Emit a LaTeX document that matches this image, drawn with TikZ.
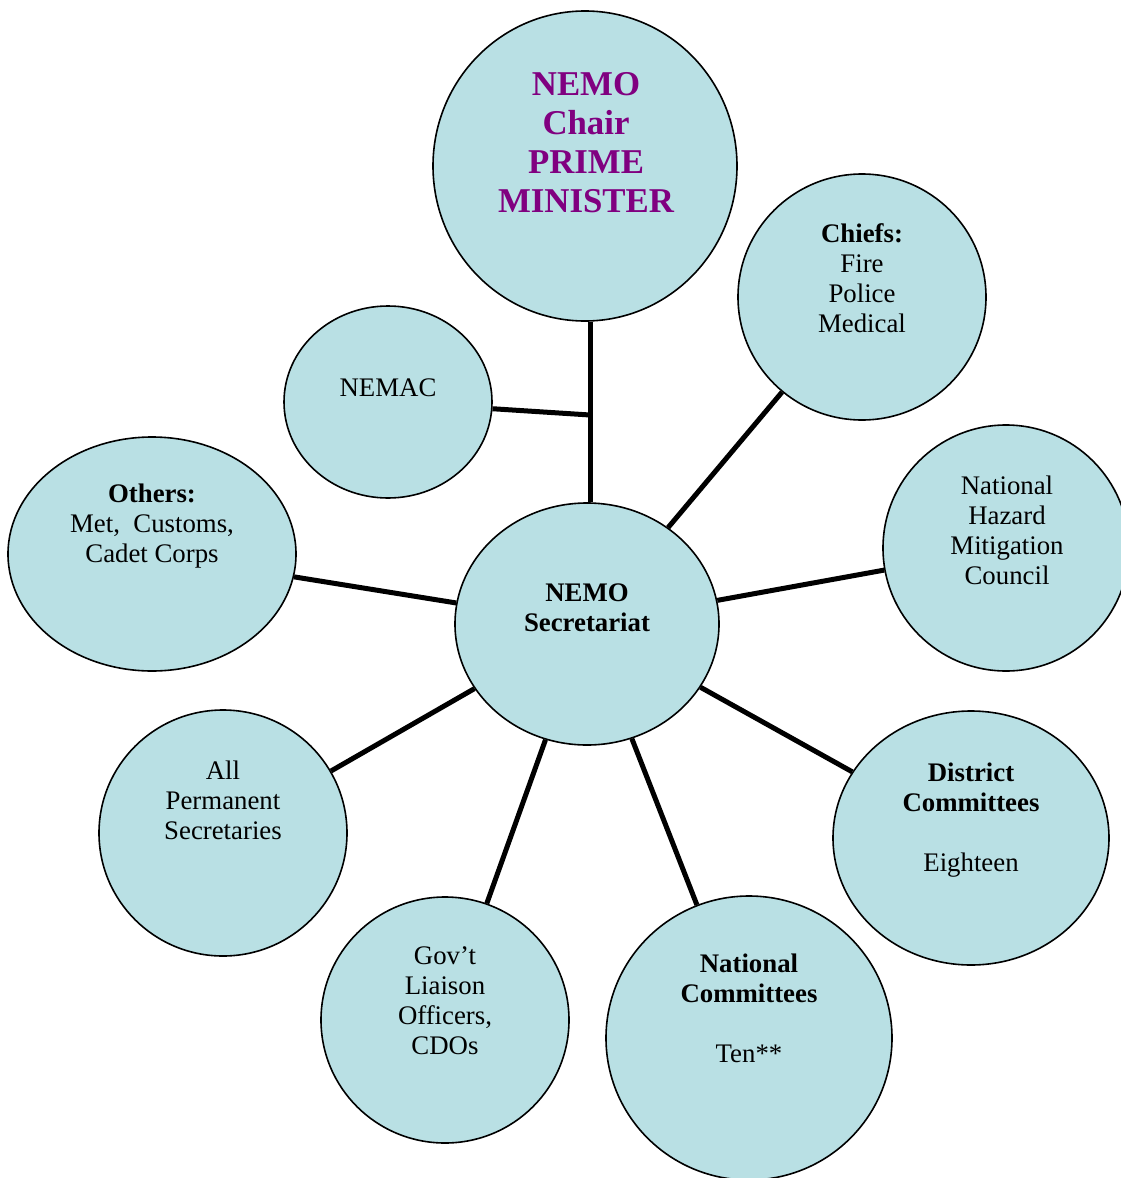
\documentclass[tikz,border=0pt]{standalone}
\usepackage{fontspec}
\setmainfont{Liberation Serif}
\usetikzlibrary{shapes.geometric}
\definecolor{bubble}{HTML}{B9E0E4}
\definecolor{titlepurple}{HTML}{800080}
\tikzset{
  bub/.style={ellipse, draw=black, line width=1.6pt, fill=bubble, inner sep=0pt, minimum width=2*#1},
  txt/.style={align=center, font=\fontsize{26.8}{30}\selectfont, inner sep=0pt},
  link/.style={line width=5pt, line cap=butt}
}
\begin{document}
\begin{tikzpicture}[x=1pt,y=-1pt]
\useasboundingbox (0,0) rectangle (1121,1178);
% bubbles
\node[bub=152, minimum height=310] (chair) at (585,166) {};
\node[bub=124, minimum height=246] (chiefs) at (862,297) {};
\node[bub=104, minimum height=192] (nemac) at (388,402) {};
\node[bub=144, minimum height=234] (others) at (152,554) {};
\node[bub=132, minimum height=242] (sec) at (587,624) {};
\node[bub=123, minimum height=246] (nhmc) at (1006,548) {};
\node[bub=138, minimum height=254] (district) at (971,838) {};
\node[bub=143, minimum height=284] (natcom) at (749,1038) {};
\node[bub=124, minimum height=246] (govt) at (445,1020) {};
\node[bub=124, minimum height=246] (perm) at (223,833) {};
% texts
\node[txt, font=\fontsize{34.8}{39}\selectfont\bfseries, text=titlepurple] (tchair) at (586,143) {NEMO\\Chair\\PRIME\\MINISTER};
\node[txt] (tchiefs) at (862,278) {\textbf{Chiefs:}\\Fire\\Police\\Medical};
\node[txt] (tnemac) at (388,388) {NEMAC};
\node[txt] (tothers) at (152,526) {\textbf{Others:}\\Met,\ \ Customs,\\Cadet Corps};
\node[txt, font=\fontsize{26.8}{30}\selectfont\bfseries] (tsec) at (587,608) {NEMO\\Secretariat};
\node[txt] (tnhmc) at (1007,530) {National\\Hazard\\Mitigation\\Council};
\node[txt] (tdistrict) at (971,820) {\textbf{District}\\\textbf{Committees}\\[30pt]Eighteen};
\node[txt] (tnatcom) at (749,1008) {\textbf{National}\\\textbf{Committees}\\[30pt]Ten**};
\node[txt] (tgovt) at (445,1001) {Gov’t\\Liaison\\Officers,\\CDOs};
\node[txt] (tperm) at (223,800) {All\\Permanent\\Secretaries};
% connectors
\coordinate (j) at (590,415);
\draw[link] (chair.south -| j) -- (sec.north -| j);
\draw[link] (nemac) -- (j);
\draw[link] (chiefs) -- (sec);
\draw[link] (nhmc) -- (sec);
\draw[link] (district) -- (sec);
\draw[link] (natcom) -- (sec);
\draw[link] (govt) -- (sec);
\draw[link] (perm) -- (sec);
\draw[link] (others) -- (sec);
\end{tikzpicture}
\end{document}
